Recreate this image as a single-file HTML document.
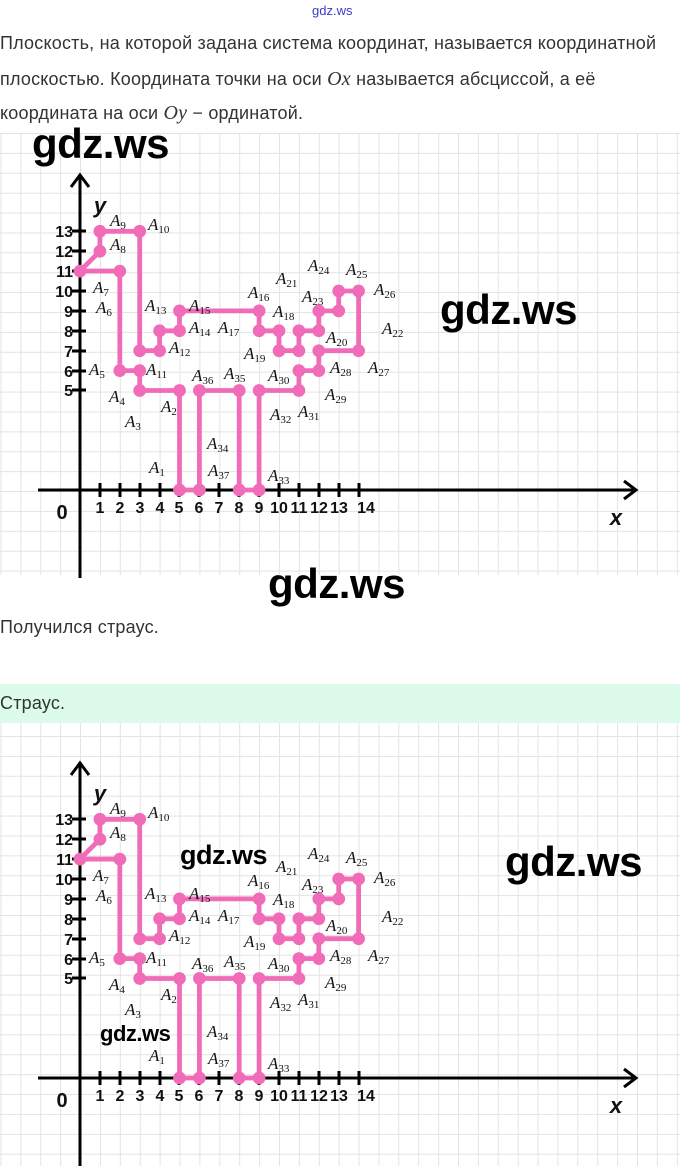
<!DOCTYPE html>
<html><head><meta charset="utf-8"><style>
body{margin:0;width:680px;height:1166px;background:#fff;position:relative;overflow:hidden;font-family:"Liberation Sans",sans-serif;color:#333}
.t{position:absolute;left:0;font-size:18px;letter-spacing:0.2px;white-space:nowrap}
.m{font-family:"Liberation Serif",serif;font-style:italic;font-size:20px}
.grid{position:absolute;left:0;width:680px;background-image:linear-gradient(#e3e3e3 1px,transparent 1px),linear-gradient(90deg,#e3e3e3 1px,transparent 1px);background-size:19.9px 19.9px;background-position:0 0}
svg{position:absolute;left:0}
.wm{position:absolute;font-family:"Liberation Sans",sans-serif;color:#000;font-weight:bold;letter-spacing:-0.5px}
</style></head><body>
<div class="t" style="left:312px;top:3px;font-size:13px;letter-spacing:0;color:#3b3bd0">gdz.ws</div>
<div class="t" style="top:33px">Плоскость, на которой задана система координат, называется координатной</div>
<div class="t" style="top:68px">плоскостью. Координата точки на оси <span class="m">Ox</span> называется абсциссой, а её</div>
<div class="t" style="top:102px">координата на оси <span class="m">Oy</span> − ординатой.</div>

<div class="grid" style="top:133px;height:442px;background-position:0.5px 0"></div>
<div class="t" style="top:617px">Получился страус.</div>
<div style="position:absolute;left:0;top:684px;width:680px;height:39px;background:#dcfbea"></div>
<div class="t" style="top:693px">Страус.</div>
<div class="grid" style="top:723px;height:443px;background-position:0.5px 13px"></div>

<svg width="680" height="445" style="top:133px" font-family="Liberation Serif,serif">
<g stroke="#000" stroke-width="3" fill="none">
<line x1="38" y1="357" x2="636" y2="357"/><polyline points="624,348 636,357 624,366"/>
<line x1="80" y1="42" x2="80" y2="445"/><polyline points="71,54 80,42 89,54"/>
<path d="M72 98h14M72 118h14M72 138h14M72 158h14M72 178h14M72 198h14M72 218h14M72 238h14M72 257h14"/>
<path d="M100 350v14M120 350v14M140 350v14M160 350v14M179 350v14M199 350v14M219 350v14M239 350v14M259 350v14M279 350v14M299 350v14M319 350v14M339 350v14M359 350v14"/>
</g>
<g transform="translate(80,357) scale(19.9,-19.9)" fill="#f06bb8">
<polygon fill="none" stroke="#f06bb8" stroke-width="0.24" stroke-linejoin="round" points="5,0 5,5 3,5 3,6 2,6 2,11 0,11 1,12 1,13 3,13 3,7 4,7 4,8 5,8 5,9 9,9 9,8 10,8 10,7 11,7 11,8 12,8 12,9 13,9 13,10 14,10 14,7 12,7 12,6 11,6 11,5 9,5 9,0 8,0 8,5 6,5 6,0"/>
<line x1="0" y1="11" x2="2" y2="11" stroke="#f06bb8" stroke-width="0.24"/>
<g>
<circle cx="5" cy="0" r="0.32"/><circle cx="5" cy="5" r="0.32"/><circle cx="3" cy="5" r="0.32"/><circle cx="3" cy="6" r="0.32"/><circle cx="2" cy="6" r="0.32"/><circle cx="2" cy="11" r="0.32"/><circle cx="0" cy="11" r="0.32"/><circle cx="1" cy="12" r="0.32"/><circle cx="1" cy="13" r="0.32"/><circle cx="3" cy="13" r="0.32"/><circle cx="3" cy="7" r="0.32"/><circle cx="4" cy="7" r="0.32"/><circle cx="4" cy="8" r="0.32"/><circle cx="5" cy="8" r="0.32"/><circle cx="5" cy="9" r="0.32"/><circle cx="9" cy="9" r="0.32"/><circle cx="9" cy="8" r="0.32"/><circle cx="10" cy="8" r="0.32"/><circle cx="10" cy="7" r="0.32"/><circle cx="11" cy="7" r="0.32"/><circle cx="11" cy="8" r="0.32"/><circle cx="12" cy="8" r="0.32"/><circle cx="12" cy="9" r="0.32"/><circle cx="13" cy="9" r="0.32"/><circle cx="13" cy="10" r="0.32"/><circle cx="14" cy="10" r="0.32"/><circle cx="14" cy="7" r="0.32"/><circle cx="12" cy="7" r="0.32"/><circle cx="12" cy="6" r="0.32"/><circle cx="11" cy="6" r="0.32"/><circle cx="11" cy="5" r="0.32"/><circle cx="9" cy="5" r="0.32"/><circle cx="9" cy="0" r="0.32"/><circle cx="8" cy="0" r="0.32"/><circle cx="8" cy="5" r="0.32"/><circle cx="6" cy="5" r="0.32"/><circle cx="6" cy="0" r="0.32"/>
</g></g>
<g font-family="Liberation Sans,sans-serif" font-weight="bold" font-size="16" fill="#111" text-anchor="end">
<text x="73" y="104">13</text><text x="73" y="124">12</text><text x="73" y="144">11</text><text x="73" y="164">10</text><text x="73" y="184">9</text><text x="73" y="204">8</text><text x="73" y="224">7</text><text x="73" y="244">6</text><text x="73" y="263">5</text>
</g>
<g font-family="Liberation Sans,sans-serif" font-weight="bold" font-size="16" fill="#111" text-anchor="middle">
<text x="100" y="380">1</text><text x="120" y="380">2</text><text x="140" y="380">3</text><text x="160" y="380">4</text><text x="179" y="380">5</text><text x="199" y="380">6</text><text x="219" y="380">7</text><text x="239" y="380">8</text><text x="259" y="380">9</text><text x="279" y="380">10</text><text x="299" y="380">11</text><text x="319" y="380">12</text><text x="339" y="380">13</text><text x="366" y="380">14</text>
<text x="62" y="386" font-size="20">0</text>
<text x="616" y="392" font-size="22" font-style="italic">x</text>
<text x="100" y="80" font-size="22" font-style="italic">y</text>
</g>
<g font-style="italic" font-size="17" fill="#111">
<text x="110" y="93">A<tspan font-size="11" font-style="normal" dy="3">9</tspan></text>
<text x="148" y="97">A<tspan font-size="11" font-style="normal" dy="3">10</tspan></text>
<text x="110" y="117">A<tspan font-size="11" font-style="normal" dy="3">8</tspan></text>
<text x="93" y="160">A<tspan font-size="11" font-style="normal" dy="3">7</tspan></text>
<text x="96" y="180">A<tspan font-size="11" font-style="normal" dy="3">6</tspan></text>
<text x="89" y="242">A<tspan font-size="11" font-style="normal" dy="3">5</tspan></text>
<text x="109" y="269">A<tspan font-size="11" font-style="normal" dy="3">4</tspan></text>
<text x="125" y="294">A<tspan font-size="11" font-style="normal" dy="3">3</tspan></text>
<text x="161" y="279">A<tspan font-size="11" font-style="normal" dy="3">2</tspan></text>
<text x="149" y="340">A<tspan font-size="11" font-style="normal" dy="3">1</tspan></text>
<text x="146" y="242">A<tspan font-size="11" font-style="normal" dy="3">11</tspan></text>
<text x="169" y="220">A<tspan font-size="11" font-style="normal" dy="3">12</tspan></text>
<text x="145" y="178">A<tspan font-size="11" font-style="normal" dy="3">13</tspan></text>
<text x="189" y="200">A<tspan font-size="11" font-style="normal" dy="3">14</tspan></text>
<text x="189" y="178">A<tspan font-size="11" font-style="normal" dy="3">15</tspan></text>
<text x="218" y="200">A<tspan font-size="11" font-style="normal" dy="3">17</tspan></text>
<text x="248" y="165">A<tspan font-size="11" font-style="normal" dy="3">16</tspan></text>
<text x="276" y="151">A<tspan font-size="11" font-style="normal" dy="3">21</tspan></text>
<text x="308" y="138">A<tspan font-size="11" font-style="normal" dy="3">24</tspan></text>
<text x="346" y="142">A<tspan font-size="11" font-style="normal" dy="3">25</tspan></text>
<text x="273" y="184">A<tspan font-size="11" font-style="normal" dy="3">18</tspan></text>
<text x="302" y="169">A<tspan font-size="11" font-style="normal" dy="3">23</tspan></text>
<text x="374" y="162">A<tspan font-size="11" font-style="normal" dy="3">26</tspan></text>
<text x="326" y="210">A<tspan font-size="11" font-style="normal" dy="3">20</tspan></text>
<text x="382" y="201">A<tspan font-size="11" font-style="normal" dy="3">22</tspan></text>
<text x="244" y="226">A<tspan font-size="11" font-style="normal" dy="3">19</tspan></text>
<text x="330" y="240">A<tspan font-size="11" font-style="normal" dy="3">28</tspan></text>
<text x="368" y="240">A<tspan font-size="11" font-style="normal" dy="3">27</tspan></text>
<text x="268" y="248">A<tspan font-size="11" font-style="normal" dy="3">30</tspan></text>
<text x="325" y="267">A<tspan font-size="11" font-style="normal" dy="3">29</tspan></text>
<text x="270" y="287">A<tspan font-size="11" font-style="normal" dy="3">32</tspan></text>
<text x="298" y="284">A<tspan font-size="11" font-style="normal" dy="3">31</tspan></text>
<text x="224" y="246">A<tspan font-size="11" font-style="normal" dy="3">35</tspan></text>
<text x="192" y="248">A<tspan font-size="11" font-style="normal" dy="3">36</tspan></text>
<text x="207" y="316">A<tspan font-size="11" font-style="normal" dy="3">34</tspan></text>
<text x="208" y="343">A<tspan font-size="11" font-style="normal" dy="3">37</tspan></text>
<text x="268" y="348">A<tspan font-size="11" font-style="normal" dy="3">33</tspan></text>
</g>
</svg>

<svg width="680" height="445" style="top:721px" font-family="Liberation Serif,serif">
<g stroke="#000" stroke-width="3" fill="none">
<line x1="38" y1="357" x2="636" y2="357"/><polyline points="624,348 636,357 624,366"/>
<line x1="80" y1="42" x2="80" y2="445"/><polyline points="71,54 80,42 89,54"/>
<path d="M72 98h14M72 118h14M72 138h14M72 158h14M72 178h14M72 198h14M72 218h14M72 238h14M72 257h14"/>
<path d="M100 350v14M120 350v14M140 350v14M160 350v14M179 350v14M199 350v14M219 350v14M239 350v14M259 350v14M279 350v14M299 350v14M319 350v14M339 350v14M359 350v14"/>
</g>
<g transform="translate(80,357) scale(19.9,-19.9)" fill="#f06bb8">
<polygon fill="none" stroke="#f06bb8" stroke-width="0.24" stroke-linejoin="round" points="5,0 5,5 3,5 3,6 2,6 2,11 0,11 1,12 1,13 3,13 3,7 4,7 4,8 5,8 5,9 9,9 9,8 10,8 10,7 11,7 11,8 12,8 12,9 13,9 13,10 14,10 14,7 12,7 12,6 11,6 11,5 9,5 9,0 8,0 8,5 6,5 6,0"/>
<line x1="0" y1="11" x2="2" y2="11" stroke="#f06bb8" stroke-width="0.24"/>
<g>
<circle cx="5" cy="0" r="0.32"/><circle cx="5" cy="5" r="0.32"/><circle cx="3" cy="5" r="0.32"/><circle cx="3" cy="6" r="0.32"/><circle cx="2" cy="6" r="0.32"/><circle cx="2" cy="11" r="0.32"/><circle cx="0" cy="11" r="0.32"/><circle cx="1" cy="12" r="0.32"/><circle cx="1" cy="13" r="0.32"/><circle cx="3" cy="13" r="0.32"/><circle cx="3" cy="7" r="0.32"/><circle cx="4" cy="7" r="0.32"/><circle cx="4" cy="8" r="0.32"/><circle cx="5" cy="8" r="0.32"/><circle cx="5" cy="9" r="0.32"/><circle cx="9" cy="9" r="0.32"/><circle cx="9" cy="8" r="0.32"/><circle cx="10" cy="8" r="0.32"/><circle cx="10" cy="7" r="0.32"/><circle cx="11" cy="7" r="0.32"/><circle cx="11" cy="8" r="0.32"/><circle cx="12" cy="8" r="0.32"/><circle cx="12" cy="9" r="0.32"/><circle cx="13" cy="9" r="0.32"/><circle cx="13" cy="10" r="0.32"/><circle cx="14" cy="10" r="0.32"/><circle cx="14" cy="7" r="0.32"/><circle cx="12" cy="7" r="0.32"/><circle cx="12" cy="6" r="0.32"/><circle cx="11" cy="6" r="0.32"/><circle cx="11" cy="5" r="0.32"/><circle cx="9" cy="5" r="0.32"/><circle cx="9" cy="0" r="0.32"/><circle cx="8" cy="0" r="0.32"/><circle cx="8" cy="5" r="0.32"/><circle cx="6" cy="5" r="0.32"/><circle cx="6" cy="0" r="0.32"/>
</g></g>
<g font-family="Liberation Sans,sans-serif" font-weight="bold" font-size="16" fill="#111" text-anchor="end">
<text x="73" y="104">13</text><text x="73" y="124">12</text><text x="73" y="144">11</text><text x="73" y="164">10</text><text x="73" y="184">9</text><text x="73" y="204">8</text><text x="73" y="224">7</text><text x="73" y="244">6</text><text x="73" y="263">5</text>
</g>
<g font-family="Liberation Sans,sans-serif" font-weight="bold" font-size="16" fill="#111" text-anchor="middle">
<text x="100" y="380">1</text><text x="120" y="380">2</text><text x="140" y="380">3</text><text x="160" y="380">4</text><text x="179" y="380">5</text><text x="199" y="380">6</text><text x="219" y="380">7</text><text x="239" y="380">8</text><text x="259" y="380">9</text><text x="279" y="380">10</text><text x="299" y="380">11</text><text x="319" y="380">12</text><text x="339" y="380">13</text><text x="366" y="380">14</text>
<text x="62" y="386" font-size="20">0</text>
<text x="616" y="392" font-size="22" font-style="italic">x</text>
<text x="100" y="80" font-size="22" font-style="italic">y</text>
</g>
<g font-style="italic" font-size="17" fill="#111">
<text x="110" y="93">A<tspan font-size="11" font-style="normal" dy="3">9</tspan></text>
<text x="148" y="97">A<tspan font-size="11" font-style="normal" dy="3">10</tspan></text>
<text x="110" y="117">A<tspan font-size="11" font-style="normal" dy="3">8</tspan></text>
<text x="93" y="160">A<tspan font-size="11" font-style="normal" dy="3">7</tspan></text>
<text x="96" y="180">A<tspan font-size="11" font-style="normal" dy="3">6</tspan></text>
<text x="89" y="242">A<tspan font-size="11" font-style="normal" dy="3">5</tspan></text>
<text x="109" y="269">A<tspan font-size="11" font-style="normal" dy="3">4</tspan></text>
<text x="125" y="294">A<tspan font-size="11" font-style="normal" dy="3">3</tspan></text>
<text x="161" y="279">A<tspan font-size="11" font-style="normal" dy="3">2</tspan></text>
<text x="149" y="340">A<tspan font-size="11" font-style="normal" dy="3">1</tspan></text>
<text x="146" y="242">A<tspan font-size="11" font-style="normal" dy="3">11</tspan></text>
<text x="169" y="220">A<tspan font-size="11" font-style="normal" dy="3">12</tspan></text>
<text x="145" y="178">A<tspan font-size="11" font-style="normal" dy="3">13</tspan></text>
<text x="189" y="200">A<tspan font-size="11" font-style="normal" dy="3">14</tspan></text>
<text x="189" y="178">A<tspan font-size="11" font-style="normal" dy="3">15</tspan></text>
<text x="218" y="200">A<tspan font-size="11" font-style="normal" dy="3">17</tspan></text>
<text x="248" y="165">A<tspan font-size="11" font-style="normal" dy="3">16</tspan></text>
<text x="276" y="151">A<tspan font-size="11" font-style="normal" dy="3">21</tspan></text>
<text x="308" y="138">A<tspan font-size="11" font-style="normal" dy="3">24</tspan></text>
<text x="346" y="142">A<tspan font-size="11" font-style="normal" dy="3">25</tspan></text>
<text x="273" y="184">A<tspan font-size="11" font-style="normal" dy="3">18</tspan></text>
<text x="302" y="169">A<tspan font-size="11" font-style="normal" dy="3">23</tspan></text>
<text x="374" y="162">A<tspan font-size="11" font-style="normal" dy="3">26</tspan></text>
<text x="326" y="210">A<tspan font-size="11" font-style="normal" dy="3">20</tspan></text>
<text x="382" y="201">A<tspan font-size="11" font-style="normal" dy="3">22</tspan></text>
<text x="244" y="226">A<tspan font-size="11" font-style="normal" dy="3">19</tspan></text>
<text x="330" y="240">A<tspan font-size="11" font-style="normal" dy="3">28</tspan></text>
<text x="368" y="240">A<tspan font-size="11" font-style="normal" dy="3">27</tspan></text>
<text x="268" y="248">A<tspan font-size="11" font-style="normal" dy="3">30</tspan></text>
<text x="325" y="267">A<tspan font-size="11" font-style="normal" dy="3">29</tspan></text>
<text x="270" y="287">A<tspan font-size="11" font-style="normal" dy="3">32</tspan></text>
<text x="298" y="284">A<tspan font-size="11" font-style="normal" dy="3">31</tspan></text>
<text x="224" y="246">A<tspan font-size="11" font-style="normal" dy="3">35</tspan></text>
<text x="192" y="248">A<tspan font-size="11" font-style="normal" dy="3">36</tspan></text>
<text x="207" y="316">A<tspan font-size="11" font-style="normal" dy="3">34</tspan></text>
<text x="208" y="343">A<tspan font-size="11" font-style="normal" dy="3">37</tspan></text>
<text x="268" y="348">A<tspan font-size="11" font-style="normal" dy="3">33</tspan></text>
</g>
</svg>

<div class="wm" style="left:32px;top:120px;font-size:42px">gdz.ws</div>
<div class="wm" style="left:440px;top:286px;font-size:42px">gdz.ws</div>
<div class="wm" style="left:268px;top:560px;font-size:42px">gdz.ws</div>
<div class="wm" style="left:180px;top:840px;font-size:27px">gdz.ws</div>
<div class="wm" style="left:505px;top:838px;font-size:42px">gdz.ws</div>
<div class="wm" style="left:100px;top:1021px;font-size:22px">gdz.ws</div>
</body></html>
